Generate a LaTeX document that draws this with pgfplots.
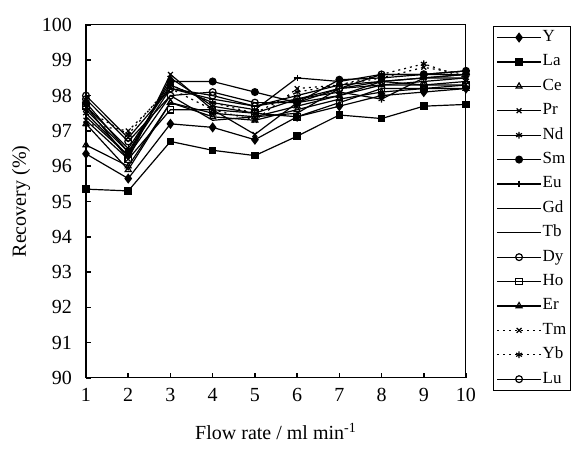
\documentclass[border=0pt]{standalone}
\usepackage{fontspec}
\setmainfont{Liberation Serif}
\usepackage{pgfplots}
\pgfplotsset{compat=1.18}

\begin{document}
\begin{tikzpicture}
\begin{axis}[
    width=190pt, height=176.5pt, scale only axis,
    xmin=1, xmax=10, ymin=90, ymax=100,
    xtick={1,...,10}, ytick={90,...,100},
    tick align=inside, xtick pos=bottom, ytick pos=left,
    major tick length=2.5pt,
    tick style={line width=0.8pt, black},
    axis line style={line width=0.5pt},
    /pgf/number format/assume math mode=true,
    tick label style={font=\fontsize{10}{11}\selectfont},
    yticklabel style={xshift=-3.5pt},
    xticklabel style={yshift=-1.5pt},
    xlabel={Flow rate / ml min\textsuperscript{-1}},
    ylabel={Recovery (\%)},
    label style={font=\fontsize{10}{11}\selectfont},
    xlabel style={yshift=-4pt},
    ylabel style={yshift=-1pt},
    every axis plot/.append style={line width=0.6pt, black, mark size=1.7pt},
    legend cell align=left,
    legend style={at={(1.071,0.997)}, anchor=north west,
        font=\fontsize{8.5}{9}\selectfont, draw=black, line width=0.5pt,
        inner xsep=1.5pt, inner ysep=2pt, row sep=5.2pt,
        nodes={inner xsep=0.5pt, inner ysep=0pt, text height=5.5pt, text depth=1.5pt}},
    legend image code/.code={
        \draw[mark repeat=2, mark phase=2, #1] plot coordinates {(0pt,0pt) (11pt,0pt) (22pt,0pt)};},
]
\draw[line width=1.1pt] (rel axis cs:0,1) -- (rel axis cs:0,0) -- (rel axis cs:1,0);

% Y
\addplot[mark=diamond*, mark size=2.1pt] coordinates {
    (1,96.35) (2,95.65) (3,97.2) (4,97.1) (5,96.75) (6,97.4) (7,97.7) (8,98.0) (9,98.1) (10,98.2)};
\addlegendentry{Y}
% La
\addplot[mark=square*, mark size=1.6pt] coordinates {
    (1,95.35) (2,95.3) (3,96.7) (4,96.45) (5,96.3) (6,96.85) (7,97.45) (8,97.35) (9,97.7) (10,97.75)};
\addlegendentry{La}
% Ce
\addplot[mark=triangle, mark options={fill=white}] coordinates {
    (1,96.6) (2,96.0) (3,97.8) (4,97.5) (5,97.4) (6,97.7) (7,98.0) (8,98.3) (9,98.3) (10,98.4)};
\addlegendentry{Ce}
% Pr
\addplot[mark=x] coordinates {
    (1,97.3) (2,96.2) (3,98.6) (4,97.6) (5,96.9) (6,97.8) (7,98.0) (8,98.4) (9,98.5) (10,98.6)};
\addlegendentry{Pr}
% Nd
\addplot[mark=asterisk] coordinates {
    (1,97.5) (2,96.3) (3,98.5) (4,97.7) (5,97.5) (6,97.9) (7,98.1) (8,97.9) (9,98.5) (10,98.5)};
\addlegendentry{Nd}
% Sm
\addplot[mark=*] coordinates {
    (1,97.8) (2,96.4) (3,98.4) (4,98.4) (5,98.1) (6,97.8) (7,98.45) (8,98.5) (9,98.6) (10,98.7)};
\addlegendentry{Sm}
% Eu
\addplot[mark=+] coordinates {
    (1,97.7) (2,96.5) (3,98.3) (4,97.8) (5,97.6) (6,98.5) (7,98.4) (8,98.6) (9,98.6) (10,98.7)};
\addlegendentry{Eu}
% Gd
\addplot[mark=-] coordinates {
    (1,97.6) (2,96.4) (3,98.2) (4,97.9) (5,97.7) (6,98.0) (7,98.3) (8,98.4) (9,98.5) (10,98.6)};
\addlegendentry{Gd}
% Tb
\addplot[mark=none] coordinates {
    (1,97.4) (2,96.3) (3,98.0) (4,97.3) (5,97.4) (6,97.5) (7,98.2) (8,98.3) (9,98.4) (10,98.5)};
\addlegendentry{Tb}
% Dy
\addplot[mark=o, mark options={fill=white}] coordinates {
    (1,97.9) (2,96.7) (3,98.0) (4,98.1) (5,97.8) (6,97.8) (7,98.2) (8,98.4) (9,98.3) (10,98.3)};
\addlegendentry{Dy}
% Ho
\addplot[mark=square, mark size=1.6pt, mark options={fill=white}] coordinates {
    (1,97.7) (2,96.2) (3,97.6) (4,97.6) (5,97.5) (6,97.4) (7,97.8) (8,98.2) (9,98.2) (10,98.3)};
\addlegendentry{Ho}
% Er
\addplot[mark=triangle, mark options={fill=white}] coordinates {
    (1,97.2) (2,95.9) (3,97.8) (4,97.4) (5,97.3) (6,97.6) (7,97.9) (8,98.1) (9,98.2) (10,98.2)};
\addlegendentry{Er}
% Tm
\addplot[mark=x, dash pattern=on 1pt off 2pt, mark options={solid}] coordinates {
    (1,97.2) (2,97.0) (3,98.2) (4,97.6) (5,97.3) (6,98.2) (7,98.3) (8,98.5) (9,98.8) (10,98.6)};
\addlegendentry{Tm}
% Yb
\addplot[mark=asterisk, dash pattern=on 1pt off 2pt, mark options={solid}] coordinates {
    (1,97.6) (2,96.9) (3,98.3) (4,97.8) (5,97.5) (6,98.1) (7,98.3) (8,98.6) (9,98.9) (10,98.5)};
\addlegendentry{Yb}
% Lu
\addplot[mark=o, mark options={fill=white}] coordinates {
    (1,98.0) (2,96.8) (3,98.2) (4,98.0) (5,97.7) (6,97.9) (7,98.2) (8,98.6) (9,98.6) (10,98.6)};
\addlegendentry{Lu}
\end{axis}
\path (-43pt,-48pt) rectangle (249pt,189pt);
\end{tikzpicture}
\end{document}
